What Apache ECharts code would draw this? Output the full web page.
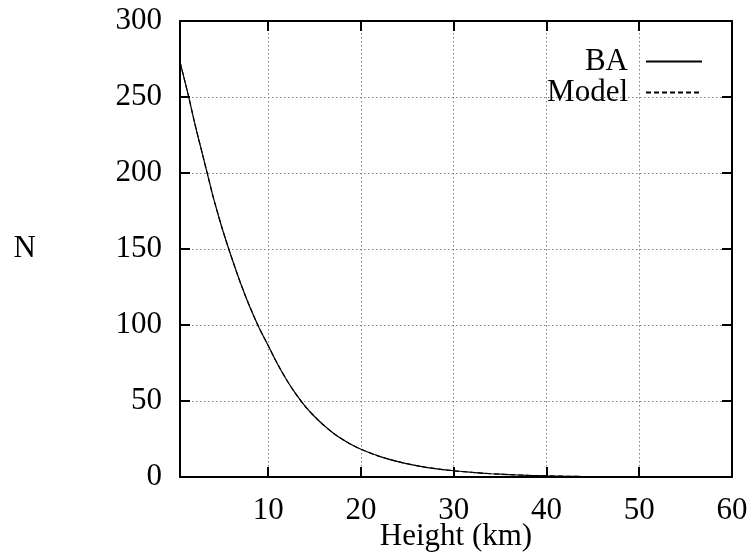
<!DOCTYPE html>
<html>
<head>
<meta charset="utf-8">
<script src="https://cdn.jsdelivr.net/npm/echarts@6/dist/echarts.min.js"></script>
<style>html,body{margin:0;padding:0;background:#fff}#c{width:749px;height:557px}</style>
</head>
<body>
<div id="c"></div>
<script>
const heights = [0.5, 1, 1.5, 2, 2.5, 3, 3.5, 4, 4.5, 5, 5.5, 6, 7, 8, 9, 10, 11, 12, 13, 14, 15, 16, 17, 18, 19, 20, 22, 24, 26, 28, 30, 32, 34, 36, 38, 40, 42, 44];
const baValues = [273, 261, 248.5, 235, 222.5, 210.5, 198.3, 186, 175, 164.5, 154.8, 145.5, 128, 112.3, 98.5, 86.5, 74.5, 63.8, 54.5, 46.5, 39.8, 34, 29, 24.8, 21.2, 18.3, 13.6, 10.1, 7.5, 5.5, 4.1, 3.0, 2.15, 1.55, 1.1, 0.75, 0.5, 0.33];
const modelValues = [273, 261, 248.5, 235, 222.5, 210.5, 198.3, 186, 175, 164.5, 154.8, 145.5, 128, 112.3, 98.5, 86.5, 74.5, 63.8, 54.5, 46.5, 39.8, 34, 29, 24.8, 21.2, 18.3, 13.6, 10.1, 7.5, 5.5, 4.1, 3.0, 2.15, 1.55, 1.1, 0.75, 0.5, 0.33];
const xTicks = [10, 20, 30, 40, 50, 60];
const yTicks = [0, 50, 100, 150, 200, 250, 300];
const seriesNames = ['BA', 'Model'];

const FONT = "'Liberation Serif', 'Times New Roman', serif";
const FS = 31;
const chart = echarts.init(document.getElementById('c'));
const pairs = vals => heights.map((h, i) => [h, vals[i]]);
const gridLine = {show: true, lineStyle: {color: '#808080', width: 1, type: [1.5, 2.5]}};
chart.setOption({
  animation: false,
  backgroundColor: '#fff',
  textStyle: {fontFamily: FONT},
  grid: {left: 180, right: 17, top: 21, bottom: 80, containLabel: false, outerBoundsMode: 'none'},
  legend: {
    orient: 'vertical', align: 'right', right: 41, top: 41,
    itemWidth: 56, itemHeight: 14, itemGap: 0,
    itemStyle: {opacity: 0},
    textStyle: {fontFamily: FONT, fontSize: FS, color: '#000', padding: [0, 13, 0, 0]},
    data: seriesNames
  },
  xAxis: [{
    type: 'value', min: 0.5, max: 60,
    name: 'Height (km)', nameLocation: 'middle', nameGap: 44, nameMoveOverlap: false,
    nameTextStyle: {fontFamily: FONT, fontSize: FS, color: '#000'},
    axisLine: {show: true, onZero: false, lineStyle: {color: '#000', width: 2}},
    axisTick: {show: true, inside: true, length: 10, lineStyle: {color: '#000', width: 2}, customValues: xTicks},
    axisLabel: {fontFamily: FONT, fontSize: FS, color: '#000', margin: 18, customValues: xTicks},
    splitLine: gridLine
  }, {
    type: 'value', min: 0.5, max: 60, position: 'top',
    axisLine: {show: true, onZero: false, lineStyle: {color: '#000', width: 2}},
    axisTick: {show: true, inside: true, length: 10, lineStyle: {color: '#000', width: 2}, customValues: xTicks},
    axisLabel: {show: false},
    splitLine: {show: false}
  }],
  yAxis: [{
    type: 'value', min: 0, max: 300, interval: 50,
    name: 'N', nameLocation: 'middle', nameRotate: 0, nameGap: 144, nameMoveOverlap: false,
    nameTextStyle: {fontFamily: FONT, fontSize: FS, color: '#000'},
    axisLine: {show: true, onZero: false, lineStyle: {color: '#000', width: 2}},
    axisTick: {show: true, inside: true, length: 10, lineStyle: {color: '#000', width: 2}},
    axisLabel: {fontFamily: FONT, fontSize: FS, color: '#000', margin: 18,
      formatter: v => yTicks.includes(v) ? String(v) : ''},
    splitLine: gridLine
  }, {
    type: 'value', min: 0, max: 300, interval: 50, position: 'right',
    axisLine: {show: true, onZero: false, lineStyle: {color: '#000', width: 2}},
    axisTick: {show: true, inside: true, length: 10, lineStyle: {color: '#000', width: 2}},
    axisLabel: {show: false},
    splitLine: {show: false}
  }],
  series: [{
    name: seriesNames[1], type: 'line', symbol: 'none', smooth: 0.3,
    data: pairs(modelValues), color: '#000', z: 2,
    lineStyle: {color: '#000', width: 1.2, type: [5, 3]}
  }, {
    name: seriesNames[0], type: 'line', symbol: 'none', smooth: 0.3,
    data: pairs(baValues), color: '#000', z: 3,
    lineStyle: {color: '#000', width: 1.2, type: 'solid'}
  }]
});
</script>
</body>
</html>
